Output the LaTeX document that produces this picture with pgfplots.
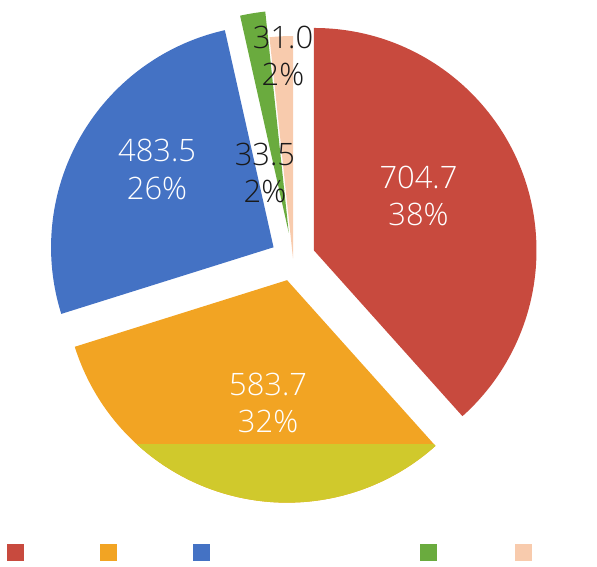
\documentclass[border=0pt]{standalone}
\usepackage{pgfplots}
\usepackage{pgfplotstable}
\pgfplotsset{compat=1.18}
\usepackage{fontspec}
\setmainfont{Open Sans Light}
\newfontfamily\lbl{Open Sans Light}

\definecolor{cRed}{HTML}{C84A3E}
\definecolor{cOrange}{HTML}{F2A423}
\definecolor{cBlue}{HTML}{4472C4}
\definecolor{cGreen}{HTML}{6AAB3E}
\definecolor{cPeach}{HTML}{F8CBAD}
\definecolor{cYellow}{HTML}{D0C92C}
\definecolor{cText}{HTML}{1A1A1A}

\pgfplotstableread{
val
704.7
583.7
483.5
33.5
31.0
}\piedata

\pgfplotstablegetelem{0}{val}\of\piedata \let\vA\pgfplotsretval
\pgfplotstablegetelem{1}{val}\of\piedata \let\vB\pgfplotsretval
\pgfplotstablegetelem{2}{val}\of\piedata \let\vC\pgfplotsretval
\pgfplotstablegetelem{3}{val}\of\piedata \let\vD\pgfplotsretval
\pgfplotstablegetelem{4}{val}\of\piedata \let\vE\pgfplotsretval
\pgfmathsetmacro\tot{\vA+\vB+\vC+\vD+\vE}
\pgfmathsetmacro\aA{90}
\pgfmathsetmacro\aB{\aA-360*(\vA/\tot)}
\pgfmathsetmacro\aC{\aB-360*(\vB/\tot)}
\pgfmathsetmacro\aD{\aC-360*(\vC/\tot)}
\pgfmathsetmacro\aE{\aD-360*(\vD/\tot)}
\pgfmathsetmacro\aF{\aE-360*(\vE/\tot)}

% name, start angle, end angle, explode (in radii)
\newcommand\prepslice[4]{%
  \pgfmathsetmacro\tmpm{(#2+#3)/2}%
  \expandafter\pgfmathsetmacro\csname px#1\endcsname{#4*cos(\tmpm)}%
  \expandafter\pgfmathsetmacro\csname py#1\endcsname{#4*sin(\tmpm)}%
  \expandafter\pgfmathsetmacro\csname sx#1\endcsname{#4*cos(\tmpm)+cos(#2)}%
  \expandafter\pgfmathsetmacro\csname sy#1\endcsname{#4*sin(\tmpm)+sin(#2)}%
}
\prepslice{R}{\aA}{\aB}{0.101}
\prepslice{O}{\aB}{\aC}{0.101}
\prepslice{B}{\aC}{\aD}{0.101}
\prepslice{G}{\aD}{\aE}{0.117}
\prepslice{P}{\aE}{\aF}{0.0}

\begin{document}
\begin{tikzpicture}
\begin{axis}[
  x=222.5bp, y=222.5bp,
  xmin=-1.3169, xmax=1.3663,
  ymin=-1.3865, ymax=1.1618,
  hide axis, clip=false,
  legend image code/.code={\fill[#1, draw=none] (0bp,-8.5bp) rectangle (17bp,8.5bp);},
  legend columns=-1,
  legend style={at={(rel axis cs:0.0117,0.0247)}, anchor=west,
    draw=none, fill=none, inner sep=0pt, outer sep=0pt,
    nodes={inner sep=0pt, outer sep=0pt},
    /tikz/column sep=0pt, /tikz/row sep=0pt},
]
\path (rel axis cs:0,0) rectangle (rel axis cs:1,1);

\fill[cRed] (axis cs:\pxR,\pyR) -- (axis cs:\sxR,\syR) arc[start angle=\aA, end angle=\aB, radius=222.5bp] -- cycle;
\fill[cOrange] (axis cs:\pxO,\pyO) -- (axis cs:\sxO,\syO) arc[start angle=\aB, end angle=\aC, radius=222.5bp] -- cycle;
\begin{scope}
\clip (rel axis cs:0,0) rectangle (axis cs:1.3,-0.838);
\fill[cYellow] (axis cs:\pxO,\pyO) -- (axis cs:\sxO,\syO) arc[start angle=\aB, end angle=\aC, radius=222.5bp] -- cycle;
\end{scope}
\fill[cBlue] (axis cs:\pxB,\pyB) -- (axis cs:\sxB,\syB) arc[start angle=\aC, end angle=\aD, radius=222.5bp] -- cycle;
\fill[cGreen] (axis cs:\pxG,\pyG) -- (axis cs:\sxG,\syG) arc[start angle=\aD, end angle=\aE, radius=222.5bp] -- cycle;
\fill[cPeach] (axis cs:\pxP,\pyP) -- (axis cs:\sxP,\syP) arc[start angle=\aE, end angle=\aF, radius=222.5bp] -- cycle;

\begin{scope}[every node/.style={align=center, font=\lbl\fontsize{31}{38}\selectfont}]
\node[text=white] at (axis cs:0.564,0.281) {704.7\\38\%};
\node[text=white] at (axis cs:-0.112,-0.649) {583.7\\32\%};
\node[text=white] at (axis cs:-0.611,0.402) {483.5\\26\%};
\node[text=cText] at (axis cs:-0.126,0.384) {33.5\\2\%};
\node[text=cText] at (axis cs:-0.045,0.910) {31.0\\2\%};
\end{scope}

\addlegendimage{fill=cRed}
\addlegendentry{\hspace*{76bp}}
\addlegendimage{fill=cOrange}
\addlegendentry{\hspace*{76bp}}
\addlegendimage{fill=cBlue}
\addlegendentry{\hspace*{210bp}}
\addlegendimage{fill=cGreen}
\addlegendentry{\hspace*{78bp}}
\addlegendimage{fill=cPeach}
\addlegendentry{\hspace*{48bp}}
\end{axis}
\end{tikzpicture}
\end{document}
